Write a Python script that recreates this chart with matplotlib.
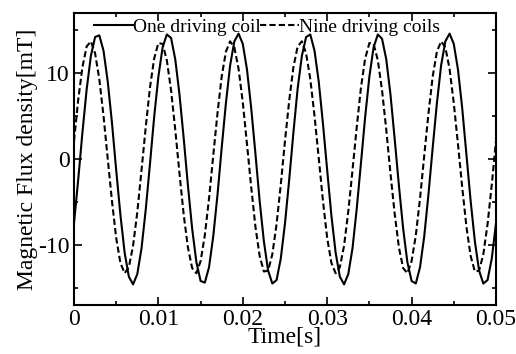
import matplotlib
matplotlib.use("Agg")
import matplotlib.pyplot as plt
from matplotlib.ticker import MultipleLocator

plt.rcParams['font.family'] = ['Liberation Serif', 'DejaVu Serif']
plt.rcParams['axes.unicode_minus'] = False

# time axis, 0.5 ms steps
time = [i * 0.0005 for i in range(101)]

# one driving coil [mT]
one_coil = [-7.5, -2.4, 3.1, 8.1, 12.0, 14.2, 14.4, 12.6, 9.0, 4.2,
            -1.3, -6.5, -10.9, -13.7, -14.6, -13.4, -10.4, -5.9, -0.6, 4.9,
            9.6, 13.0, 14.5, 14.1, 11.6, 7.5, 2.4, -3.1, -8.1, -12.0,
            -14.2, -14.4, -12.6, -9.0, -4.2, 1.3, 6.5, 10.9, 13.7, 14.6,
            13.4, 10.4, 5.9, 0.6, -4.9, -9.6, -13.0, -14.5, -14.1, -11.6,
            -7.5, -2.4, 3.1, 8.2, 12.0, 14.2, 14.5, 12.6, 9.0, 4.1,
            -1.3, -6.6, -10.9, -13.7, -14.6, -13.4, -10.4, -5.8, -0.5, 4.9,
            9.6, 13.0, 14.5, 14.0, 11.6, 7.5, 2.3, -3.1, -8.1, -12.0,
            -14.2, -14.5, -12.6, -9.0, -4.1, 1.3, 6.5, 10.9, 13.7, 14.6,
            13.4, 10.4, 5.9, 0.5, -4.9, -9.6, -13.0, -14.5, -14.1, -11.6,
            -7.5]

# nine driving coils [mT]
nine_coils = [2.1, 6.9, 10.7, 13.1, 13.7, 12.3, 9.3, 5.0, 0.0, -4.9,
              -9.2, -12.1, -13.3, -12.6, -10.1, -6.2, -1.3, 3.7, 8.3, 11.7,
              13.5, 13.4, 11.5, 8.0, 3.4, -1.7, -6.5, -10.3, -12.7, -13.3,
              -11.9, -8.9, -4.6, 0.4, 5.3, 9.6, 12.5, 13.7, 13.0, 10.5,
              6.6, 1.7, -3.3, -7.9, -11.3, -13.1, -13.0, -11.1, -7.6, -3.0,
              2.1, 6.8, 10.7, 13.1, 13.7, 12.3, 9.3, 5.0, 0.1, -4.9,
              -9.2, -12.1, -13.3, -12.6, -10.1, -6.1, -1.3, 3.7, 8.3, 11.7,
              13.5, 13.4, 11.5, 8.0, 3.4, -1.7, -6.4, -10.3, -12.7, -13.3,
              -11.9, -8.9, -4.6, 0.4, 5.3, 9.6, 12.5, 13.7, 13.0, 10.5,
              6.5, 1.7, -3.3, -7.9, -11.3, -13.1, -13.0, -11.1, -7.6, -3.0,
              2.1]

xticks = [0, 0.01, 0.02, 0.03, 0.04, 0.05]
xtick_labels = ["0", "0.01", "0.02", "0.03", "0.04", "0.05"]
yticks = [-10, 0, 10]
ytick_labels = ["-10", "0", "10"]

fig = plt.figure(figsize=(5.16, 3.54), dpi=100)
ax = fig.add_axes([0.1434, 0.1384, 0.8178, 0.8249])

ax.plot(time, one_coil, color='black', lw=1.5, label='One driving coil')
ax.plot(time, nine_coils, color='black', lw=1.5, dashes=(3, 1.5),
        label='Nine driving coils')

ax.set_xlim(0, 0.05)
ax.set_ylim(-17, 17)
ax.set_xticks(xticks)
ax.set_xticklabels(xtick_labels)
ax.set_yticks(yticks)
ax.set_yticklabels(ytick_labels)
ax.xaxis.set_minor_locator(MultipleLocator(0.005))
ax.yaxis.set_minor_locator(MultipleLocator(5))

ax.tick_params(which='both', direction='in', top=True, right=True,
               labelsize=17, width=1.2)
ax.tick_params(which='major', length=6, pad=3)
ax.tick_params(which='minor', length=3)
for s in ax.spines.values():
    s.set_linewidth(1.5)

ax.set_xlabel("Time[s]", fontsize=17, labelpad=-3)
ax.set_ylabel("Magnetic Flux density[mT]", fontsize=17, labelpad=0)

ax.legend(loc='center left', bbox_to_anchor=(0.047, 0.952), ncol=2,
          frameon=False, fontsize=14, handlelength=2.0, handletextpad=0.0,
          columnspacing=0.0, borderaxespad=0, borderpad=0)

fig.savefig("out.png", dpi=100)
